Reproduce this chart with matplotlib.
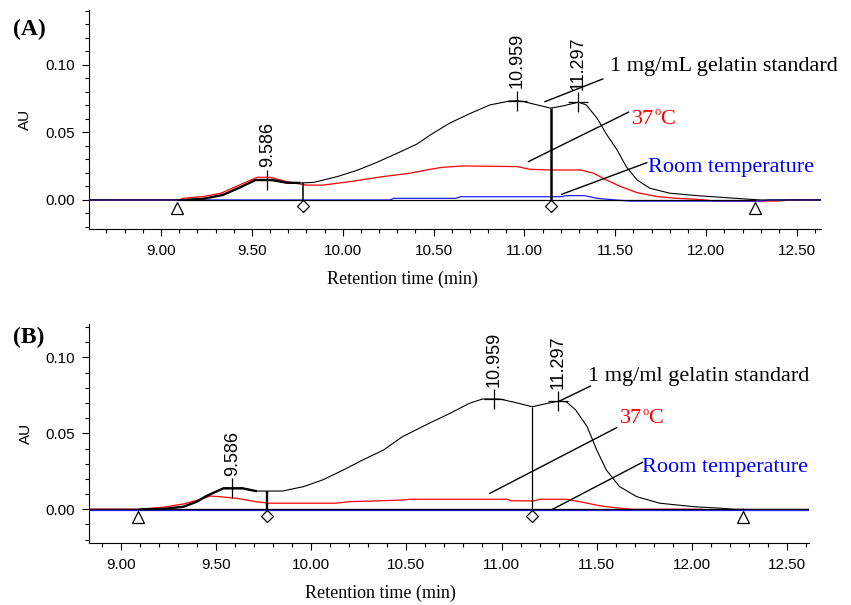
import numpy as np
import matplotlib
matplotlib.use('Agg')  # no display
import matplotlib.pyplot as plt
from matplotlib.ticker import MultipleLocator, FormatStrFormatter
from matplotlib.transforms import ScaledTranslation

plt.rcParams['font.family'] = ['Liberation Sans', 'DejaVu Sans']

SERIF = 'Liberation Serif'

# ---------- (A) chromatograms ----------
a_std_t = [8.60, 9.08, 9.15, 9.23, 9.34, 9.43, 9.52, 9.61, 9.69, 9.76, 9.84, 9.97,
           10.08, 10.19, 10.30, 10.41, 10.48, 10.59, 10.70, 10.81, 10.92, 10.96,
           10.99, 11.07, 11.145, 11.21, 11.297, 11.34, 11.40, 11.45, 11.51, 11.56,
           11.62, 11.69, 11.80, 11.95, 12.08, 12.24, 12.30, 12.63]
a_std_au = [0, 0, 0.0002, 0.0008, 0.0037, 0.0090, 0.0148, 0.0148, 0.0128, 0.0126,
            0.0130, 0.0173, 0.0220, 0.0280, 0.0346, 0.0415, 0.0480, 0.0570, 0.0640,
            0.0704, 0.0733, 0.0735, 0.0730, 0.0704, 0.0680, 0.0696, 0.0724, 0.0704,
            0.0605, 0.0490, 0.0370, 0.0247, 0.0148, 0.0087, 0.0050, 0.0032, 0.0020,
            0.0005, 0, 0]

a_37_t = [8.60, 9.10, 9.12, 9.23, 9.33, 9.42, 9.53, 9.60, 9.69, 9.80, 9.89, 10.04,
          10.22, 10.37, 10.48, 10.55, 10.66, 10.96, 11.03, 11.14, 11.31, 11.38,
          11.45, 11.53, 11.62, 11.73, 11.84, 11.95, 12.05, 12.40, 12.45, 12.63]
a_37_au = [0, 0, 0.0012, 0.0025, 0.0050, 0.0104, 0.0168, 0.0168, 0.0136, 0.0110,
           0.0110, 0.0136, 0.0173, 0.0198, 0.0227, 0.0242, 0.0252, 0.0247, 0.0227,
           0.0222, 0.0222, 0.0198, 0.0148, 0.0099, 0.0054, 0.0025, 0.0012, 0.0005,
           -0.0008, -0.0008, 0, 0]

a_rt_t = [8.60, 10.26, 10.28, 10.62, 10.65, 11.20, 11.23, 11.33, 11.40, 11.50,
          11.58, 12.30, 12.35, 12.63]
a_rt_au = [0, 0, 0.0012, 0.0012, 0.0024, 0.0024, 0.0032, 0.0032, 0.0012, 0,
           -0.0008, -0.0008, 0, 0]

# ---------- (B) chromatograms ----------
b_std_t = [8.83, 9.11, 9.22, 9.33, 9.40, 9.45, 9.54, 9.64, 9.71, 9.85, 9.96, 10.06,
           10.17, 10.27, 10.38, 10.48, 10.62, 10.73, 10.83, 10.90, 10.99, 11.08,
           11.16, 11.24, 11.30, 11.34, 11.39, 11.45, 11.50, 11.55, 11.62, 11.71,
           11.83, 12.01, 12.15, 12.22, 12.62]
b_std_au = [0, 0, 0.0002, 0.0017, 0.0050, 0.0087, 0.0138, 0.0138, 0.0120, 0.0120,
            0.0149, 0.0193, 0.0259, 0.0324, 0.0390, 0.0478, 0.0566, 0.0632, 0.0697,
            0.0726, 0.0726, 0.0701, 0.0675, 0.0697, 0.0712, 0.0708, 0.0653, 0.0543,
            0.0390, 0.0259, 0.0149, 0.0083, 0.0040, 0.0017, 0.0007, 0, 0]

b_37_t = [8.83, 9.10, 9.12, 9.22, 9.33, 9.42, 9.47, 9.52, 9.61, 9.71, 9.78, 10.13,
          10.20, 10.34, 10.48, 10.52, 11.03, 11.05, 11.17, 11.20, 11.34, 11.41,
          11.52, 11.62, 11.68, 12.05, 12.07, 12.62]
b_37_au = [0, 0, 0.0003, 0.0013, 0.0035, 0.0066, 0.0087, 0.0083, 0.0072, 0.0050,
           0.0040, 0.0040, 0.0050, 0.0055, 0.0061, 0.0066, 0.0066, 0.0056, 0.0055,
           0.0066, 0.0066, 0.0050, 0.0022, 0.0007, 0, 0, -0.0006, -0.0006]

b_rt_t = [8.83, 12.62]
b_rt_au = [-0.0003, -0.0003]

# peak apex times, integration limits and drop lines
peak_times = [9.586, 10.959, 11.297]
baseline_ends = [9.09, 12.27]
a_drops = [9.78, 11.145]
b_drops = [9.77, 11.16]


def degree_label(ax, x, y, color):
    # "37", a small raised "o", then "C" on the same baseline
    t = ax.text(x, y, '37', family=SERIF, fontsize=16, color=color, va='baseline')
    o = ax.annotate('o', xy=(1, 1), xycoords=t, xytext=(0.5, 2.5),
                    textcoords='offset points', family=SERIF, fontsize=9,
                    color=color, ha='left', va='top')
    ax.annotate('C', xy=(0.9, 0), xycoords=(o, t), family=SERIF, fontsize=16,
                color=color, ha='left', va='bottom')


def draw_panel(ax, std, warm, room, drops, drop_lw, xlim, ylim,
               std_label, text_pos, leaders):
    fig = ax.figure
    t_std, au_std = np.array(std[0]), np.array(std[1])

    ax.plot(warm[0], warm[1], color='#ff0000', lw=0.9)
    ax.plot(room[0], room[1], color='#2020ff', lw=0.9)
    ax.plot(t_std, au_std, color='black', lw=0.8)

    # first (integrated) peak drawn heavier
    m = (t_std >= baseline_ends[0]) & (t_std <= drops[0])
    ax.plot(t_std[m], au_std[m], color='black', lw=1.7)

    # integration baseline
    ax.plot(baseline_ends, [0, 0], color='black', lw=0.9)

    # drop lines
    for d, w in zip(drops, drop_lw):
        ax.vlines(d, 0, np.interp(d, t_std, au_std), color='black', lw=w)

    # baseline start/end and drop markers, just under the baseline
    down8 = ax.transData + ScaledTranslation(0, -0.08, fig.dpi_scale_trans)
    down6 = ax.transData + ScaledTranslation(0, -0.065, fig.dpi_scale_trans)
    ax.plot(baseline_ends, [0, 0], ls='none', marker='^', ms=9, mfc='white',
            mec='black', mew=0.9, transform=down8, clip_on=False)
    ax.plot(drops, [0, 0], ls='none', marker='D', ms=6.2, mfc='white',
            mec='black', mew=0.9, transform=down6, clip_on=False)

    # peak apex crosses and retention times
    for p in peak_times:
        y = np.interp(p, t_std, au_std)
        ax.plot(p, y, marker='+', ms=14, mew=0.9, color='black')
        ax.annotate(f'{p:.3f}', xy=(p, y), xytext=(0, 9), textcoords='offset points',
                    rotation=90, ha='center', va='bottom', fontsize=13)

    # trace labels with leader lines
    (sx, sy), (wx, wy), (rx, ry) = text_pos
    ax.text(sx, sy, std_label, family=SERIF, fontsize=16, color='black', va='baseline')
    degree_label(ax, wx, wy, '#ff0000')
    ax.text(rx, ry, 'Room temperature', family=SERIF, fontsize=16, color='#0000ff',
            va='baseline')
    for x0, y0, x1, y1 in leaders:
        ax.plot([x0, x1], [y0, y1], color='black', lw=1.0)

    ax.set_xlim(*xlim)
    ax.set_ylim(*ylim)

    ax.spines['top'].set_visible(False)
    ax.spines['right'].set_visible(False)
    ax.spines['left'].set_linewidth(0.8)
    ax.spines['bottom'].set_linewidth(0.8)

    ax.xaxis.set_major_locator(MultipleLocator(0.5))
    ax.xaxis.set_minor_locator(MultipleLocator(0.1))
    ax.xaxis.set_major_formatter(FormatStrFormatter('%.2f'))
    ax.yaxis.set_major_locator(MultipleLocator(0.05))
    ax.yaxis.set_minor_locator(MultipleLocator(0.01))
    ax.yaxis.set_major_formatter(FormatStrFormatter('%.2f'))
    ax.tick_params(which='major', length=5, width=0.8, labelsize=11)
    ax.tick_params(which='minor', length=2.8, width=0.8)
    ax.tick_params(axis='x', which='major', pad=6)
    ax.tick_params(axis='y', which='major', pad=5)


fig = plt.figure(figsize=(8.51, 6.05), dpi=100)
ax_a = fig.add_axes([0.1046, 0.6215, 0.8602, 0.362])
ax_b = fig.add_axes([0.1046, 0.103, 0.8464, 0.3615])

draw_panel(ax_a, (a_std_t, a_std_au), (a_37_t, a_37_au), (a_rt_t, a_rt_au),
           a_drops, [1.1, 1.8], (8.604, 12.632), (-0.0215, 0.1407),
           '1 mg/mL gelatin standard',
           [(11.471, 0.0956), (11.59, 0.0563), (11.68, 0.021)],
           [(11.431, 0.0896, 11.113, 0.0728),
            (11.572, 0.0650, 11.022, 0.0284),
            (11.673, 0.0276, 11.205, 0.0042)])

draw_panel(ax_b, (b_std_t, b_std_au), (b_37_t, b_37_au), (b_rt_t, b_rt_au),
           b_drops, [1.7, 0.9], (8.834, 12.616), (-0.022, 0.122),
           '1 mg/ml gelatin standard',
           [(11.453, 0.0844), (11.621, 0.0566), (11.74, 0.0247)],
           [(11.467, 0.0811, 11.297, 0.0708),
            (11.604, 0.0537, 10.939, 0.0105),
            (11.740, 0.0309, 11.268, 0.0)])

for ax, lx in [(ax_a, 0.428), (ax_b, 0.405)]:
    ax.text(lx, -0.232, 'Retention time (min)', transform=ax.transAxes,
            family=SERIF, fontsize=13, ha='center', va='center')
    ax.text(-0.0875, 0.5, 'AU', transform=ax.transAxes, rotation=90,
            fontsize=11, ha='center', va='center')

fig.text(29 / 851, 1 - 29 / 605, '(A)', family=SERIF, fontsize=17,
         fontweight='bold', ha='center', va='center')
fig.text(29 / 851, 1 - 337 / 605, '(B)', family=SERIF, fontsize=17,
         fontweight='bold', ha='center', va='center')

fig.savefig('out.png', dpi=100)
